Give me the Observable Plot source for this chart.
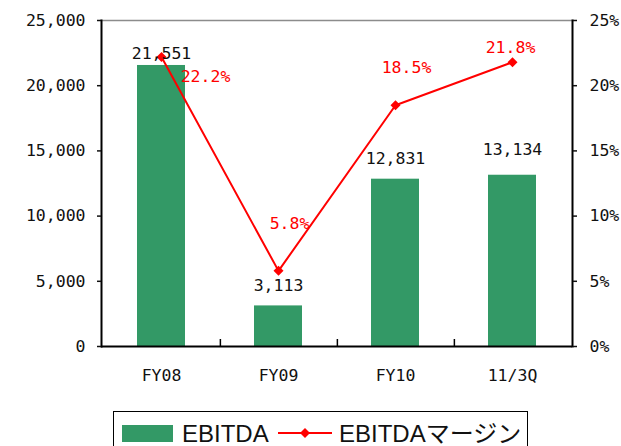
<!DOCTYPE html>
<html><head><meta charset="utf-8">
<script src="https://cdn.jsdelivr.net/npm/d3@7"></script>
<script src="https://cdn.jsdelivr.net/npm/@observablehq/plot@0.6"></script>
<style>
body{margin:0;background:#fff;}
#chart{position:relative;width:621px;height:446px;overflow:hidden;background:#fff;}
.legend{position:absolute;left:113px;top:411px;width:415px;height:50px;border:1.5px solid #000;box-sizing:border-box;font-family:"Liberation Sans","Noto Sans CJK JP",sans-serif;font-size:24px;line-height:24px;color:#111;}
.legend .sw{position:absolute;left:8px;top:12.5px;width:51px;height:17px;background:#339966;}
.legend .t{position:absolute;white-space:nowrap;}
.legend svg{position:absolute;}
</style></head>
<body>
<div id="chart"></div>
<script>
const categories = ["FY08", "FY09", "FY10", "11/3Q"];
const ebitda = [21551, 3113, 12831, 13134];
const marginPct = [22.2, 5.8, 18.5, 21.8];
const leftTicks = [0, 5000, 10000, 15000, 20000, 25000];
const rightTicks = [0, 5, 10, 15, 20, 25];
const seriesNames = ["EBITDA", "EBITDAマージン"];

// layout / style
const W = 621, H = 405, ML = 101, MR = 49, MT = 20, MB = 59;
const yMax = 25000, pctMax = 25;
const k = yMax / pctMax;
const step = (W - ML - MR) / categories.length;
const barLabelDy = [-12, -20, -20, -26];
const pctLabelOff = [[44, 20], [11, -47], [11, -38], [-2, -15]];

const rows = categories.map((c, i) => ({
  cat: c, v: ebitda[i], m: marginPct[i] * k, mLabel: marginPct[i].toFixed(1) + "%"
}));

const fmt = d3.format(",");

const plot = Plot.plot({
  width: W, height: H,
  marginLeft: ML, marginRight: MR, marginTop: MT, marginBottom: MB,
  style: {fontFamily: "'DejaVu Sans Mono', monospace", fontSize: "16.5px", color: "#111", background: "transparent", overflow: "visible"},
  x: {type: "band", domain: categories, paddingInner: 0.59, paddingOuter: 0.295, align: 0.5},
  y: {domain: [0, yMax]},
  marks: [
    Plot.barY(rows, {x: "cat", y: "v", fill: "#339966"}),
    Plot.frame({anchor: "top", stroke: "#8c8c8c", strokeWidth: 1.5}),
    Plot.frame({anchor: "left", stroke: "#000", strokeWidth: 2}),
    Plot.frame({anchor: "right", stroke: "#000", strokeWidth: 2}),
    Plot.ruleY([0], {stroke: "#000", strokeWidth: 2}),
    Plot.ruleX(categories.slice(0, -1), {x: d => d, y1: 0, y2: 0, insetBottom: 7, dx: step / 2, stroke: "#000", strokeWidth: 1.5}),
    Plot.axisY(leftTicks, {anchor: "left", tickSize: 4, tickPadding: 12, tickFormat: fmt, strokeWidth: 1.5, label: null, fill: "#111"}),
    Plot.axisY(rightTicks.map(d => d * k), {anchor: "right", tickSize: 4, tickPadding: 13, tickFormat: d => d / k + "%", strokeWidth: 1.5, label: null, fill: "#111"}),
    Plot.axisX({tickSize: 0, tickPadding: 23, label: null, fill: "#111"}),
    Plot.line(rows, {x: "cat", y: "m", stroke: "#ff0000", strokeWidth: 2}),
    Plot.dot(rows, {x: "cat", y: "m", symbol: "diamond2", r: 4.5, fill: "#ff0000", stroke: "none"}),
    ...rows.map((r, i) => Plot.text([r], {x: "cat", y: "v", text: d => fmt(d.v), dy: barLabelDy[i], fill: "#111"})),
    ...rows.map((r, i) => Plot.text([r], {x: "cat", y: "m", text: "mLabel", dx: pctLabelOff[i][0], dy: pctLabelOff[i][1], fill: "#ff0000"}))
  ]
});

const chart = document.getElementById("chart");
chart.appendChild(plot);

const legend = document.createElement("div");
legend.className = "legend";
legend.innerHTML = `
  <div class="sw"></div>
  <div class="t" style="left:68px;top:10px;">${seriesNames[0]}</div>
  <svg style="left:164px;top:15px;" width="54" height="12" viewBox="0 0 54 12">
    <line x1="0" y1="6" x2="54" y2="6" stroke="#ff0000" stroke-width="2"/>
    <path d="M27,1 L32,6 L27,11 L22,6 Z" fill="#ff0000"/>
  </svg>
  <div class="t" style="left:225px;top:10px;">${seriesNames[1]}</div>`;
chart.appendChild(legend);
</script>
</body></html>
